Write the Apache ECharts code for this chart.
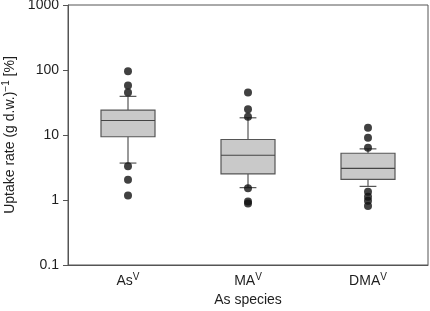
<!DOCTYPE html>
<html>
<head>
<meta charset="utf-8">
<script src="https://cdn.jsdelivr.net/npm/echarts@6/dist/echarts.min.js"></script>
<style>html,body{margin:0;padding:0;background:#fff;}#c{width:430px;height:311px;}</style>
</head>
<body>
<div id="c"></div>
<script>
const categories = ['As', 'MA', 'DMA'];
const categorySup = ['V', 'V', 'V'];
const whiskerLow = [3.7, 1.55, 1.62];
const q1 = [9.4, 2.52, 2.08];
const median = [16.7, 4.88, 3.07];
const q3 = [24.2, 8.53, 5.24];
const whiskerHigh = [39.3, 18.4, 6.12];
const outliersAs = [96, 58, 45, 3.3, 2.05, 1.17];
const outliersMA = [45, 24.8, 19.1, 1.52, 0.95, 0.88];
const outliersDMA = [12.9, 9.05, 6.35, 1.34, 1.12, 0.97, 0.81];
const yTicks = [0.1, 1, 10, 100, 1000];

const outlierGroups = [outliersAs, outliersMA, outliersDMA];
const boxData = categories.map((c, i) => [i, whiskerLow[i], q1[i], median[i], q3[i], whiskerHigh[i]]);
const outlierData = [];
outlierGroups.forEach((g, i) => g.forEach(v => outlierData.push([i, v])));

const FONT = 'Liberation Sans, Arial, sans-serif';
const TXT = '#1e1e1e';
const LINE = '#555';

const chart = echarts.init(document.getElementById('c'), null, {renderer: 'canvas'});
chart.setOption({
  animation: false,
  grid: {left: 68, right: 2, top: 5, bottom: 46, show: true, borderColor: LINE, borderWidth: 1,
    containLabel: false, outerBoundsMode: 'none'},
  xAxis: {
    type: 'category',
    data: categories,
    boundaryGap: true,
    axisLine: {lineStyle: {color: LINE, width: 1}},
    axisTick: {alignWithLabel: true, length: 4, lineStyle: {color: LINE}},
    axisLabel: {
      margin: 7,
      formatter: (v, i) => '{a|' + v + '}{s|' + categorySup[i] + '}',
      rich: {
        a: {fontFamily: FONT, fontSize: 14, color: TXT},
        s: {fontFamily: FONT, fontSize: 10, color: TXT, padding: [0, 0, 8, 0]}
      }
    },
    name: 'As species',
    nameLocation: 'middle',
    nameGap: 28,
    nameTextStyle: {fontFamily: FONT, fontSize: 14, color: TXT}
  },
  yAxis: {
    type: 'log',
    logBase: 10,
    min: 0.1,
    max: 1000,
    splitLine: {show: false},
    minorTick: {show: false},
    axisLine: {show: true, lineStyle: {color: LINE, width: 1}},
    axisTick: {show: true, length: 5, lineStyle: {color: LINE}},
    axisLabel: {
      margin: 9,
      fontFamily: FONT, fontSize: 14, color: TXT,
      formatter: v => {
        const t = yTicks.find(x => Math.abs(Math.log10(x) - Math.log10(v)) < 1e-6);
        return t !== undefined ? String(t) : '';
      }
    },
    name: '{a|Uptake rate (g d.w.)}{s|−1}{a| [%]}',
    nameLocation: 'middle',
    nameGap: 49,
    nameRotate: 90,
    nameTextStyle: {
      rich: {
        a: {fontFamily: FONT, fontSize: 14, color: TXT},
        s: {fontFamily: FONT, fontSize: 10, color: TXT, padding: [0, 0, 8, 0]}
      }
    }
  },
  series: [
    {
      type: 'custom',
      data: boxData,
      encode: {x: 0, y: [1, 2, 3, 4, 5]},
      z: 2,
      renderItem: (params, api) => {
        const idx = api.value(0);
        const lo = api.coord([idx, api.value(1)]);
        const b1 = api.coord([idx, api.value(2)]);
        const md = api.coord([idx, api.value(3)]);
        const b3 = api.coord([idx, api.value(4)]);
        const hi = api.coord([idx, api.value(5)]);
        const band = api.size([1, 1])[0];
        const hw = band * 0.225;
        const cw = band * 0.07;
        const x = lo[0];
        const ls = {stroke: LINE, lineWidth: 1.2};
        return {
          type: 'group',
          children: [
            {type: 'line', shape: {x1: x, y1: hi[1], x2: x, y2: b3[1]}, style: ls},
            {type: 'line', shape: {x1: x, y1: b1[1], x2: x, y2: lo[1]}, style: ls},
            {type: 'line', shape: {x1: x - cw, y1: hi[1], x2: x + cw, y2: hi[1]}, style: ls},
            {type: 'line', shape: {x1: x - cw, y1: lo[1], x2: x + cw, y2: lo[1]}, style: ls},
            {type: 'rect', shape: {x: x - hw, y: b3[1], width: 2 * hw, height: b1[1] - b3[1]},
              style: {fill: '#c9c9c9', stroke: LINE, lineWidth: 1.2}},
            {type: 'line', shape: {x1: x - hw, y1: md[1], x2: x + hw, y2: md[1]}, style: {stroke: '#444', lineWidth: 1.2}}
          ]
        };
      }
    },
    {
      type: 'scatter',
      data: outlierData,
      symbol: 'circle',
      symbolSize: 8,
      z: 3,
      itemStyle: {color: '#111'}
    }
  ]
});
</script>
</body>
</html>
